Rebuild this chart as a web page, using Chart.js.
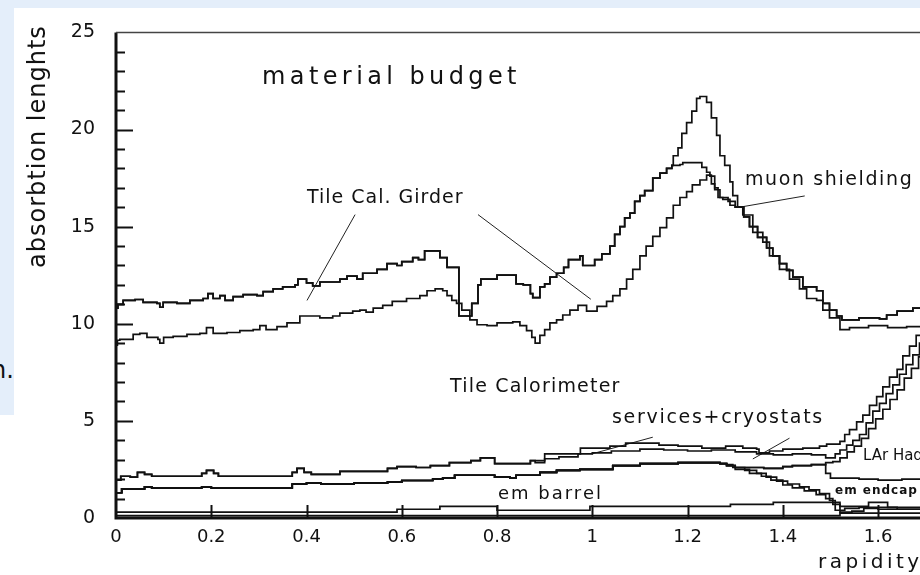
<!DOCTYPE html>
<html>
<head>
<meta charset="utf-8">
<script src="https://cdn.jsdelivr.net/npm/chart.js@4.4.1/dist/chart.umd.min.js"></script>
<style>
html, body { margin: 0; padding: 0; overflow: hidden; background: #fff; }
#page { position: relative; width: 920px; height: 575px; overflow: hidden; background: #fff; }
.band-top { position: absolute; left: 0; top: 0; width: 920px; height: 8px; background: #e4eefa; }
.band-left { position: absolute; left: 0; top: 0; width: 14px; height: 415px; background: #e4eefa; }
canvas { position: absolute; left: 0; top: 0; }
.lbl { position: absolute; white-space: nowrap; line-height: 1; font-family: "DejaVu Sans", sans-serif; color: #111; }
</style>
</head>
<body>
<div id="page">
    <div class="band-top"></div>
    <div class="band-left"></div>
    <div class="lbl" style="left:-9px; top:358px; font-size:24px;">n.</div>
    <canvas id="budgetChart" width="940" height="575"></canvas>

    <div class="lbl" style="left:262px; top:64px; font-size:24px; letter-spacing:4.4px;">material budget</div>
    <div class="lbl" style="left:25px; top:268px; font-size:24px; letter-spacing:1px; transform-origin:0 0; transform:rotate(-90deg);">absorbtion lenghts</div>
    <div class="lbl" style="left:818px; top:551px; font-size:20px; letter-spacing:3.5px;">rapidity</div>

    <div class="lbl" style="left:307px; top:187px; font-size:19px; letter-spacing:1px;">Tile Cal. Girder</div>
    <div class="lbl" style="left:745px; top:169px; font-size:19px; letter-spacing:1.6px;">muon shielding</div>
    <div class="lbl" style="left:450px; top:376px; font-size:19px; letter-spacing:1.2px;">Tile Calorimeter</div>
    <div class="lbl" style="left:612px; top:407px; font-size:19px; letter-spacing:1.7px;">services+cryostats</div>
    <div class="lbl" style="left:863px; top:448px; font-size:15px;">LAr Had</div>
    <div class="lbl" style="left:835px; top:484px; font-size:12px; font-weight:bold; letter-spacing:1px;">em endcap</div>
    <div class="lbl" style="left:498px; top:484px; font-size:18px; letter-spacing:2px;">em barrel</div>
</div>

<script>

// 축 눈금
const rapidityTicks = [0, 0.2, 0.4, 0.6, 0.8, 1, 1.2, 1.4, 1.6];
const absorptionTicks = [0, 5, 10, 15, 20, 25];

// 전체 (girder + muon shielding 포함)  [rapidity, lambda]
const totalAbs = [
    [0, 10.8], [0.004, 11.0], [0.015, 11.2], [0.04, 11.25], [0.057, 11.1], [0.086, 11.05],
    [0.092, 10.85], [0.099, 11.1], [0.128, 11.05], [0.155, 11.2], [0.183, 11.3], [0.193, 11.55],
    [0.204, 11.3], [0.218, 11.45], [0.229, 11.2], [0.246, 11.4], [0.267, 11.5], [0.296, 11.45],
    [0.309, 11.65], [0.33, 11.8], [0.35, 11.9], [0.376, 12.0], [0.382, 12.3], [0.4, 12.1],
    [0.413, 11.95], [0.428, 12.15], [0.47, 12.3], [0.485, 12.45], [0.506, 12.3], [0.518, 12.6],
    [0.548, 12.8], [0.569, 13.1], [0.59, 13.0], [0.6, 13.2], [0.623, 13.4], [0.635, 13.3],
    [0.648, 13.75], [0.68, 13.4], [0.695, 12.9], [0.72, 10.4], [0.747, 11.05], [0.76, 12.0],
    [0.766, 12.3], [0.8, 12.5], [0.84, 12.05], [0.855, 12.0], [0.87, 11.55], [0.875, 11.35],
    [0.89, 11.9], [0.9, 12.05], [0.911, 12.4], [0.925, 12.6], [0.94, 12.9], [0.95, 13.3],
    [0.974, 13.5], [0.98, 13.0], [1.005, 13.3], [1.02, 13.6], [1.037, 14.0], [1.047, 14.6],
    [1.058, 15.0], [1.068, 15.45], [1.079, 15.7], [1.089, 16.3], [1.1, 16.6], [1.11, 16.85],
    [1.127, 17.5], [1.142, 17.75], [1.156, 18.0], [1.167, 18.15], [1.17, 18.65], [1.18, 19.05],
    [1.188, 19.8], [1.198, 20.35], [1.209, 20.95], [1.219, 21.6], [1.226, 21.7], [1.24, 21.4],
    [1.25, 20.6], [1.261, 19.7], [1.268, 18.65], [1.278, 18.15], [1.289, 17.3], [1.295, 16.6],
    [1.305, 16.0], [1.318, 15.5], [1.33, 15.0], [1.347, 14.45], [1.366, 13.9], [1.379, 13.5],
    [1.393, 13.1], [1.408, 12.75], [1.421, 12.4], [1.442, 11.9], [1.471, 11.7], [1.484, 11.05],
    [1.498, 10.7], [1.513, 10.4], [1.524, 10.2], [1.56, 10.3], [1.603, 10.25], [1.618, 10.45],
    [1.64, 10.65], [1.673, 10.8], [1.73, 10.8]
];

// muon shielding 제외 구간
const noMuonPeak = [
    [1.167, 18.15], [1.184, 18.2], [1.19, 18.3], [1.219, 18.3], [1.23, 18.05], [1.24, 17.8],
    [1.247, 17.6], [1.257, 17.0], [1.264, 16.5], [1.274, 16.4], [1.289, 16.1], [1.3, 16.0]
];

// girder 제외 (tile calorimeter 까지)
const tileCalAbs = [
    [0, 8.9], [0.003, 9.15], [0.008, 9.2], [0.036, 9.45], [0.05, 9.5], [0.065, 9.3],
    [0.088, 9.2], [0.092, 9.0], [0.1, 9.3], [0.12, 9.35], [0.149, 9.45], [0.176, 9.5],
    [0.19, 9.8], [0.204, 9.5], [0.233, 9.55], [0.26, 9.65], [0.288, 9.7], [0.302, 9.9],
    [0.315, 9.7], [0.338, 9.85], [0.359, 10.05], [0.386, 10.4], [0.428, 10.3], [0.455, 10.4],
    [0.47, 10.55], [0.497, 10.65], [0.512, 10.7], [0.525, 10.6], [0.54, 10.8], [0.56, 10.95],
    [0.58, 11.15], [0.61, 11.3], [0.638, 11.45], [0.653, 11.7], [0.67, 11.8], [0.686, 11.7],
    [0.695, 11.45], [0.705, 11.2], [0.715, 11.05], [0.726, 10.7], [0.743, 10.2], [0.758, 9.95],
    [0.779, 9.9], [0.8, 10.05], [0.833, 10.1], [0.848, 9.9], [0.862, 9.65], [0.873, 9.3],
    [0.88, 9.0], [0.89, 9.4], [0.9, 9.7], [0.911, 10.05], [0.925, 10.2], [0.938, 10.45],
    [0.953, 10.7], [0.97, 10.95], [0.988, 10.65], [1.01, 10.9], [1.03, 11.15], [1.043, 11.45],
    [1.058, 11.8], [1.072, 12.3], [1.085, 12.8], [1.1, 13.5], [1.113, 14.0], [1.127, 14.5],
    [1.142, 14.95], [1.156, 15.45], [1.17, 16.1], [1.184, 16.5], [1.198, 16.8], [1.21, 17.15],
    [1.226, 17.4], [1.24, 17.65], [1.25, 17.2], [1.257, 16.9], [1.268, 16.5], [1.285, 16.3],
    [1.3, 16.0], [1.316, 15.6], [1.337, 14.7], [1.358, 14.2], [1.372, 13.5], [1.393, 12.8],
    [1.414, 12.3], [1.435, 11.8], [1.45, 11.3], [1.471, 11.2], [1.484, 10.7], [1.498, 10.3],
    [1.52, 9.7], [1.54, 9.8], [1.58, 9.9], [1.62, 9.8], [1.66, 9.85], [1.73, 9.85]
];

// services + cryostats (바깥쪽) -> LAr Had
const servicesOuter = [
    [0, 1.95], [0.01, 2.15], [0.03, 2.1], [0.045, 2.35], [0.06, 2.25], [0.075, 2.15],
    [0.18, 2.3], [0.19, 2.45], [0.205, 2.3], [0.215, 2.15], [0.37, 2.35], [0.38, 2.55],
    [0.395, 2.35], [0.41, 2.25], [0.47, 2.4], [0.57, 2.55], [0.59, 2.65], [0.63, 2.6],
    [0.66, 2.7], [0.7, 2.85], [0.745, 2.95], [0.765, 3.1], [0.795, 2.8], [0.87, 2.95],
    [0.9, 3.3], [0.975, 3.6], [1.037, 3.7], [1.07, 3.85], [1.14, 3.75], [1.18, 3.7],
    [1.23, 3.6], [1.28, 3.7], [1.316, 3.6], [1.345, 3.55], [1.35, 3.35], [1.372, 3.45],
    [1.4, 3.55], [1.442, 3.6], [1.477, 3.7], [1.492, 3.8], [1.52, 3.95], [1.53, 4.3],
    [1.54, 4.55], [1.555, 4.95], [1.568, 5.3], [1.582, 5.8], [1.597, 6.25], [1.61, 6.75],
    [1.624, 7.25], [1.64, 7.65], [1.652, 8.35], [1.666, 8.85], [1.68, 9.4], [1.69, 9.8],
    [1.73, 10.2]
];

// services 안쪽 (0.88 이후 분리)
const servicesInner = [
    [0.88, 2.85], [0.9, 3.05], [0.93, 3.15], [0.97, 3.3], [1.0, 3.35], [1.04, 3.45],
    [1.1, 3.55], [1.15, 3.5], [1.2, 3.45], [1.25, 3.5], [1.3, 3.4], [1.345, 3.3],
    [1.38, 3.25], [1.42, 3.3], [1.46, 3.25], [1.49, 3.1], [1.51, 3.3], [1.52, 3.5],
    [1.534, 3.75], [1.547, 4.0], [1.561, 4.3], [1.575, 4.9], [1.589, 5.5], [1.603, 5.9],
    [1.617, 6.4], [1.631, 6.85], [1.645, 7.4], [1.659, 7.9], [1.673, 8.4], [1.687, 9.0],
    [1.73, 9.4]
];

// em barrel 윗면
const emBarrelTop = [
    [0, 1.3], [0.012, 1.5], [0.06, 1.6], [0.075, 1.55], [0.18, 1.6], [0.2, 1.55],
    [0.37, 1.75], [0.4, 1.8], [0.43, 1.75], [0.5, 1.8], [0.57, 1.85], [0.6, 1.93],
    [0.665, 2.0], [0.686, 2.05], [0.711, 2.2], [0.795, 2.1], [0.827, 2.05], [0.84, 2.2],
    [0.89, 2.35], [0.925, 2.45], [0.974, 2.5], [1.043, 2.7], [1.1, 2.8], [1.18, 2.85],
    [1.268, 2.8]
];

// em barrel 이후 수평 구간
const crackTail = [
    [1.282, 2.7], [1.3, 2.6], [1.337, 2.6], [1.36, 2.55], [1.4, 2.65], [1.42, 2.7], [1.46, 2.75]
];

// LAr Had 안쪽 상승
const larInnerRise = [
    [1.49, 2.85], [1.505, 2.9], [1.52, 3.1], [1.535, 3.4], [1.55, 3.7], [1.565, 4.1],
    [1.58, 4.6], [1.595, 5.1], [1.61, 5.6], [1.625, 6.1], [1.64, 6.6], [1.655, 7.2],
    [1.67, 7.7], [1.685, 8.3], [1.73, 8.8]
];

// LAr Had 바닥 (em endcap 윗면)
const larBase = [
    [1.49, 2.3], [1.5, 2.05], [1.56, 2.0], [1.6, 1.95], [1.65, 2.0], [1.73, 2.0]
];

// em barrel 끝 하강 2줄
const barrelDropA = [
    [1.282, 2.75], [1.295, 2.6], [1.32, 2.45], [1.345, 2.3], [1.365, 2.1], [1.387, 1.9],
    [1.41, 1.75], [1.435, 1.6], [1.455, 1.45], [1.477, 1.25], [1.498, 0.9], [1.51, 0.4],
    [1.53, 0.5], [1.56, 0.55], [1.6, 0.55], [1.64, 0.45], [1.73, 0.45]
];
const barrelDropB = [
    [1.282, 2.7], [1.3, 2.5], [1.33, 2.3], [1.355, 2.15], [1.375, 1.95], [1.4, 1.7],
    [1.42, 1.55], [1.445, 1.4], [1.47, 1.2], [1.49, 1.0], [1.505, 0.7], [1.52, 0.3],
    [1.545, 0.35], [1.57, 0.5], [1.6, 0.45], [1.73, 0.4]
];

// 바닥 근처 얇은 층
const innerBase = [
    [0, 0.3], [0.59, 0.45], [0.68, 0.6], [0.8, 0.4], [0.995, 0.6], [1.29, 0.7],
    [1.38, 0.8], [1.5, 0.8], [1.52, 0.6], [1.58, 0.8], [1.62, 0.55], [1.73, 0.55]
];
const beamPipe = [
    [0, 0.12], [1.5, 0.12], [1.52, 0.25], [1.73, 0.25]
];

// 설명 지시선
const leaderLines = [
    [[0.502, 15.62], [0.401, 11.2]],
    [[0.76, 15.62], [0.997, 11.26]],
    [[1.446, 16.58], [1.314, 16.02]],
    [[1.127, 4.16], [0.999, 3.3]],
    [[1.414, 4.11], [1.337, 3.04]]
];


function toPoints(pairs) {
    return pairs.map(function(p) {
        return { x: p[0], y: p[1] };
    });
}

function before(pairs, limit) {
    return pairs.filter(function(p) { return p[0] < limit; });
}

function after(pairs, limit) {
    return pairs.filter(function(p) { return p[0] > limit; });
}

function histLine(pairs) {
    return {
        data: toPoints(pairs),
        borderColor: '#111',
        borderWidth: 1.7,
        pointRadius: 0,
        stepped: true,
        fill: false
    };
}


const curves = [
    totalAbs,
    before(totalAbs, 1.167).concat(noMuonPeak, after(totalAbs, 1.3)),
    tileCalAbs,
    servicesOuter,
    before(servicesOuter, 0.88).concat(servicesInner),
    emBarrelTop.concat(crackTail, larInnerRise),
    emBarrelTop.concat(crackTail, larBase),
    emBarrelTop.concat(barrelDropA),
    emBarrelTop.concat(barrelDropB),
    innerBase,
    beamPipe
];

const datasets = curves.map(histLine);

leaderLines.forEach(function(seg) {
    datasets.push({
        data: toPoints(seg),
        borderColor: '#222',
        borderWidth: 1,
        pointRadius: 0,
        fill: false
    });
});


// 프레임 + 안쪽 눈금
const frameTicks = {
    id: 'frameTicks',
    afterDatasetsDraw(chart) {
        const ctx = chart.ctx;
        const area = chart.chartArea;
        const x = chart.scales.x;
        const y = chart.scales.y;

        ctx.save();
        ctx.strokeStyle = '#111';
        ctx.lineWidth = 2;

        for (let v = 1; v < 25; v++) {
            const py = Math.round(y.getPixelForValue(v)) + 0.5;
            const len = v % 5 === 0 ? 17 : 9;
            ctx.beginPath();
            ctx.moveTo(area.left, py);
            ctx.lineTo(area.left + len, py);
            ctx.stroke();
        }

        rapidityTicks.forEach(function(v) {
            if (v === 0) {
                return;
            }
            const px = Math.round(x.getPixelForValue(v)) + 0.5;
            ctx.beginPath();
            ctx.moveTo(px, area.bottom);
            ctx.lineTo(px, area.bottom - 13);
            ctx.stroke();
        });

        ctx.lineWidth = 3;
        ctx.beginPath();
        ctx.moveTo(area.left, area.top);
        ctx.lineTo(area.left, area.bottom);
        ctx.lineTo(area.right, area.bottom);
        ctx.stroke();

        ctx.strokeStyle = '#444';
        ctx.lineWidth = 1.5;
        ctx.beginPath();
        ctx.moveTo(area.left, area.top);
        ctx.lineTo(area.right, area.top);
        ctx.stroke();

        ctx.restore();
    }
};


function initBudgetChart() {

    const ctx = document.getElementById('budgetChart');

    if (!ctx) {
        return;
    }

    new Chart(ctx.getContext('2d'), {
        type: 'line',
        data: { datasets: datasets },
        options: {
            responsive: false,
            animation: false,
            layout: {
                padding: { top: 25, left: 0, right: 0, bottom: 0 }
            },
            plugins: {
                legend: { display: false },
                tooltip: { enabled: false }
            },
            scales: {
                x: {
                    type: 'linear',
                    min: 0,
                    max: 1.73,
                    afterFit: function(scale) { scale.height = 57; },
                    afterBuildTicks: function(scale) {
                        scale.ticks = rapidityTicks.map(function(v) { return { value: v }; });
                    },
                    grid: { display: false, drawTicks: false },
                    border: { display: false },
                    ticks: {
                        padding: 9,
                        color: '#111',
                        font: { family: 'DejaVu Sans', size: 18 },
                        callback: function(value) { return String(value); }
                    }
                },
                y: {
                    min: 0,
                    max: 25,
                    afterFit: function(scale) { scale.width = 116; },
                    afterBuildTicks: function(scale) {
                        scale.ticks = absorptionTicks.map(function(v) { return { value: v }; });
                    },
                    grid: { display: false, drawTicks: false },
                    border: { display: false },
                    ticks: {
                        padding: 21,
                        color: '#111',
                        font: { family: 'DejaVu Sans', size: 19 }
                    }
                }
            }
        },
        plugins: [frameTicks]
    });
}

initBudgetChart();
</script>
</body>
</html>
